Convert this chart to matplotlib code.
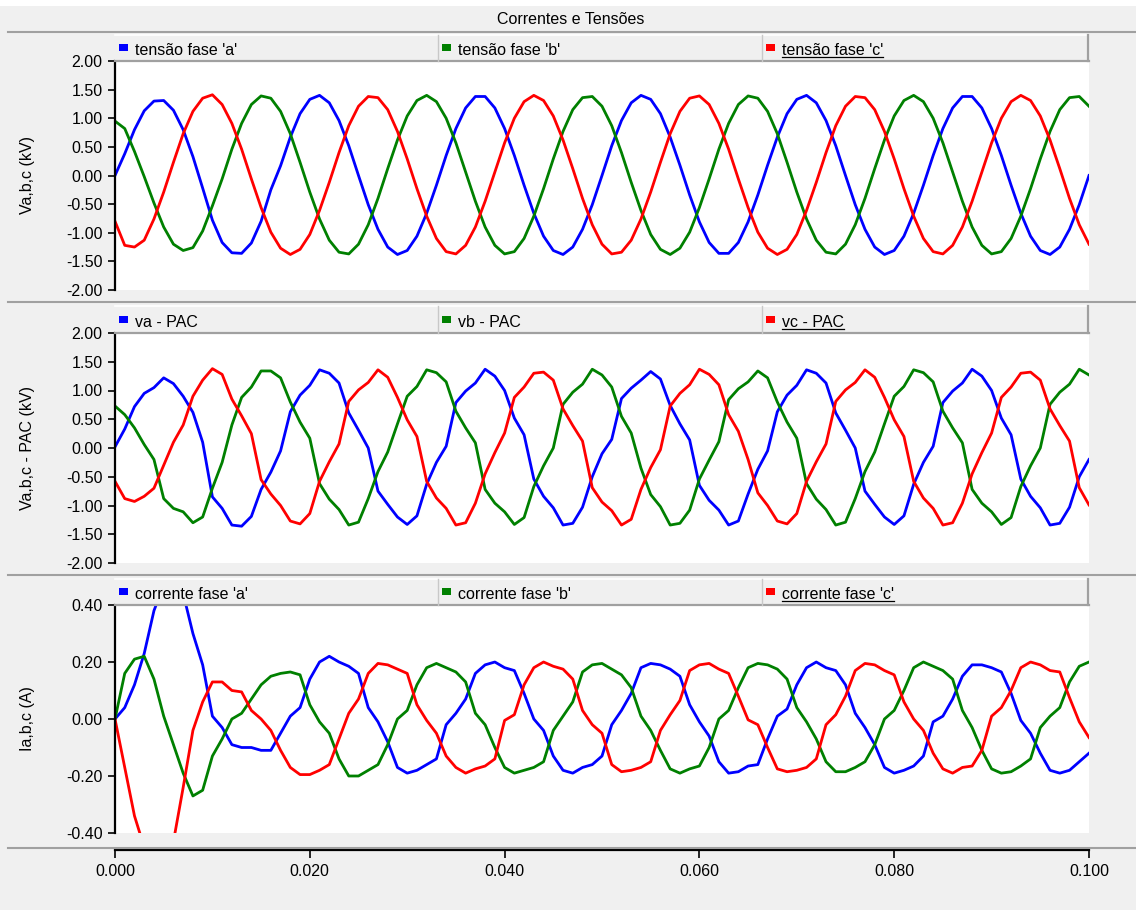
import numpy as np
import matplotlib
matplotlib.use("Agg")
import matplotlib.pyplot as plt
from matplotlib.patches import Rectangle
from matplotlib.lines import Line2D

plt.rcParams['font.family'] = ['Liberation Sans', 'DejaVu Sans']

W, H = 1136, 910
BG = '#f0f0f0'
FS = 11.5

# tempo: uma amostra por ms, 0 .. 0.1 s
t = np.arange(101) / 1000.0

# tensões de fase (kV)
va = [0.00, 0.38, 0.80, 1.13, 1.30, 1.31, 1.14, 0.80, 0.33, -0.22,
      -0.78, -1.17, -1.35, -1.36, -1.18, -0.80, -0.25, 0.17, 0.67, 1.08,
      1.33, 1.40, 1.27, 0.96, 0.52, 0.00, -0.51, -0.94, -1.25, -1.38,
      -1.31, -1.06, -0.66, -0.17, 0.35, 0.82, 1.18, 1.38, 1.38, 1.18,
      0.82, 0.35, -0.17, -0.66, -1.06, -1.31, -1.38, -1.25, -0.94, -0.51,
      0.00, 0.52, 0.96, 1.27, 1.40, 1.33, 1.08, 0.67, 0.18, -0.34,
      -0.81, -1.17, -1.36, -1.36, -1.17, -0.81, -0.34, 0.18, 0.67, 1.08,
      1.33, 1.40, 1.27, 0.96, 0.52, 0.00, -0.51, -0.94, -1.25, -1.38,
      -1.31, -1.06, -0.66, -0.17, 0.35, 0.82, 1.18, 1.38, 1.38, 1.18,
      0.82, 0.35, -0.17, -0.66, -1.06, -1.31, -1.38, -1.25, -0.94, -0.51,
      0.00]
vb = [0.95, 0.82, 0.42, -0.02, -0.48, -0.90, -1.20, -1.31, -1.26, -0.97,
      -0.53, -0.06, 0.46, 0.91, 1.24, 1.39, 1.35, 1.12, 0.73, 0.23,
      -0.29, -0.76, -1.13, -1.34, -1.37, -1.20, -0.86, -0.40, 0.12, 0.62,
      1.04, 1.31, 1.40, 1.29, 1.00, 0.57, 0.06, -0.45, -0.90, -1.22,
      -1.37, -1.33, -1.10, -0.71, -0.23, 0.29, 0.77, 1.15, 1.36, 1.38,
      1.21, 0.87, 0.40, -0.12, -0.61, -1.03, -1.29, -1.38, -1.27, -0.99,
      -0.56, -0.06, 0.46, 0.91, 1.24, 1.39, 1.35, 1.12, 0.73, 0.23,
      -0.29, -0.76, -1.13, -1.34, -1.37, -1.20, -0.86, -0.40, 0.12, 0.62,
      1.04, 1.31, 1.40, 1.29, 1.00, 0.57, 0.06, -0.45, -0.90, -1.22,
      -1.37, -1.33, -1.10, -0.71, -0.23, 0.29, 0.77, 1.15, 1.36, 1.38,
      1.21]
vc = [-0.80, -1.22, -1.25, -1.13, -0.76, -0.29, 0.23, 0.73, 1.12, 1.35,
      1.41, 1.24, 0.91, 0.46, -0.06, -0.56, -0.99, -1.27, -1.38, -1.29,
      -1.03, -0.61, -0.12, 0.40, 0.87, 1.21, 1.38, 1.36, 1.15, 0.77,
      0.29, -0.23, -0.71, -1.10, -1.33, -1.37, -1.22, -0.90, -0.45, 0.06,
      0.57, 1.00, 1.29, 1.40, 1.31, 1.04, 0.62, 0.12, -0.40, -0.86,
      -1.20, -1.37, -1.34, -1.13, -0.76, -0.29, 0.23, 0.73, 1.12, 1.35,
      1.39, 1.24, 0.91, 0.46, -0.06, -0.56, -0.99, -1.27, -1.38, -1.29,
      -1.03, -0.61, -0.12, 0.40, 0.87, 1.21, 1.38, 1.36, 1.15, 0.77,
      0.29, -0.23, -0.71, -1.10, -1.33, -1.37, -1.22, -0.90, -0.45, 0.06,
      0.57, 1.00, 1.29, 1.40, 1.31, 1.04, 0.62, 0.12, -0.40, -0.86,
      -1.20]

# tensões no PAC (kV)
va_pac = [0.02, 0.33, 0.72, 0.95, 1.05, 1.22, 1.12, 0.90, 0.62, 0.10,
          -0.85, -1.05, -1.34, -1.36, -1.19, -0.72, -0.42, -0.05, 0.63, 0.92,
          1.09, 1.36, 1.30, 1.13, 0.61, 0.31, 0.00, -0.75, -0.98, -1.20,
          -1.33, -1.18, -0.63, -0.25, 0.03, 0.79, 0.99, 1.13, 1.37, 1.25,
          1.00, 0.52, 0.23, -0.54, -0.84, -1.04, -1.34, -1.31, -1.03, -0.50,
          -0.10, 0.15, 0.86, 1.04, 1.18, 1.33, 1.20, 0.74, 0.42, 0.14,
          -0.65, -0.91, -1.08, -1.34, -1.27, -0.80, -0.37, -0.05, 0.63, 0.92,
          1.09, 1.36, 1.30, 1.13, 0.61, 0.31, 0.00, -0.75, -0.98, -1.20,
          -1.33, -1.18, -0.63, -0.25, 0.03, 0.79, 0.99, 1.13, 1.37, 1.25,
          1.00, 0.52, 0.23, -0.54, -0.84, -1.04, -1.34, -1.31, -1.03, -0.50,
          -0.20]
vb_pac = [0.73, 0.58, 0.35, 0.06, -0.20, -0.88, -1.05, -1.11, -1.30, -1.20,
          -0.70, -0.25, 0.40, 0.88, 1.06, 1.34, 1.34, 1.22, 0.80, 0.45,
          0.17, -0.62, -0.89, -1.07, -1.34, -1.29, -0.88, -0.41, -0.07, 0.42,
          0.90, 1.07, 1.36, 1.31, 1.15, 0.64, 0.35, 0.09, -0.72, -0.96,
          -1.11, -1.33, -1.21, -0.67, -0.31, 0.00, 0.76, 0.97, 1.11, 1.37,
          1.27, 1.06, 0.55, 0.26, -0.35, -0.81, -1.02, -1.34, -1.31, -1.08,
          -0.54, -0.21, 0.11, 0.84, 1.03, 1.15, 1.34, 1.22, 0.80, 0.45,
          0.17, -0.62, -0.89, -1.07, -1.34, -1.29, -0.88, -0.41, -0.07, 0.42,
          0.90, 1.07, 1.36, 1.31, 1.15, 0.64, 0.35, 0.09, -0.72, -0.96,
          -1.11, -1.33, -1.21, -0.67, -0.31, 0.00, 0.76, 0.97, 1.11, 1.37,
          1.27]
vc_pac = [-0.58, -0.88, -0.93, -0.84, -0.70, -0.30, 0.10, 0.40, 0.90, 1.18,
          1.38, 1.28, 0.85, 0.56, 0.25, -0.55, -0.80, -1.00, -1.27, -1.32,
          -1.14, -0.58, -0.24, 0.07, 0.81, 1.01, 1.14, 1.36, 1.23, 0.88,
          0.49, 0.20, -0.58, -0.87, -1.05, -1.34, -1.30, -0.96, -0.45, -0.08,
          0.26, 0.88, 1.06, 1.30, 1.32, 1.18, 0.68, 0.39, 0.12, -0.69,
          -0.94, -1.09, -1.34, -1.24, -0.72, -0.34, -0.03, 0.73, 0.95, 1.10,
          1.37, 1.28, 1.10, 0.58, 0.29, -0.20, -0.78, -1.00, -1.27, -1.32,
          -1.14, -0.58, -0.24, 0.07, 0.81, 1.01, 1.14, 1.36, 1.23, 0.88,
          0.49, 0.20, -0.58, -0.87, -1.05, -1.34, -1.30, -0.96, -0.45, -0.08,
          0.26, 0.88, 1.06, 1.30, 1.32, 1.18, 0.68, 0.39, 0.12, -0.69,
          -0.99]

# correntes de fase (A)
ia = [0.00, 0.04, 0.12, 0.23, 0.38, 0.47, 0.49, 0.44, 0.30, 0.19,
      0.01, -0.03, -0.09, -0.10, -0.10, -0.11, -0.11, -0.05, 0.01, 0.04,
      0.14, 0.20, 0.22, 0.20, 0.185, 0.16, 0.04, -0.01, -0.08, -0.17,
      -0.19, -0.18, -0.16, -0.14, -0.02, 0.02, 0.07, 0.16, 0.19, 0.20,
      0.18, 0.17, 0.09, 0.00, -0.04, -0.13, -0.18, -0.19, -0.17, -0.16,
      -0.13, -0.02, 0.03, 0.09, 0.18, 0.195, 0.19, 0.175, 0.15, 0.05,
      -0.01, -0.06, -0.15, -0.19, -0.185, -0.165, -0.16, -0.07, 0.01, 0.035,
      0.12, 0.18, 0.20, 0.18, 0.17, 0.12, 0.02, -0.03, -0.09, -0.17,
      -0.19, -0.18, -0.165, -0.13, -0.01, 0.01, 0.07, 0.15, 0.19, 0.19,
      0.18, 0.165, 0.09, -0.005, -0.05, -0.12, -0.18, -0.19, -0.18, -0.15,
      -0.12]
ib = [0.00, 0.16, 0.21, 0.22, 0.14, 0.01, -0.09, -0.19, -0.27, -0.25,
      -0.13, -0.07, 0.00, 0.02, 0.07, 0.12, 0.15, 0.16, 0.165, 0.155,
      0.05, -0.01, -0.05, -0.14, -0.20, -0.20, -0.18, -0.16, -0.09, 0.00,
      0.03, 0.12, 0.18, 0.195, 0.18, 0.165, 0.13, 0.02, -0.02, -0.10,
      -0.17, -0.19, -0.18, -0.17, -0.15, -0.04, 0.01, 0.06, 0.165, 0.19,
      0.195, 0.175, 0.155, 0.11, 0.01, -0.04, -0.11, -0.175, -0.19, -0.175,
      -0.165, -0.10, 0.00, 0.03, 0.11, 0.18, 0.195, 0.19, 0.175, 0.14,
      0.04, -0.01, -0.07, -0.15, -0.185, -0.185, -0.17, -0.15, -0.09, 0.00,
      0.03, 0.10, 0.18, 0.20, 0.185, 0.17, 0.14, 0.03, -0.03, -0.11,
      -0.175, -0.19, -0.185, -0.165, -0.14, -0.03, 0.01, 0.04, 0.13, 0.185,
      0.20]
ic = [0.00, -0.17, -0.34, -0.45, -0.50, -0.49, -0.43, -0.24, -0.04, 0.06,
      0.13, 0.13, 0.10, 0.095, 0.03, 0.00, -0.04, -0.11, -0.17, -0.195,
      -0.195, -0.18, -0.16, -0.07, 0.02, 0.07, 0.16, 0.195, 0.19, 0.175,
      0.16, 0.05, -0.005, -0.05, -0.13, -0.17, -0.19, -0.175, -0.165, -0.14,
      -0.005, 0.015, 0.12, 0.18, 0.20, 0.185, 0.175, 0.14, 0.03, -0.02,
      -0.05, -0.16, -0.185, -0.18, -0.17, -0.15, -0.04, 0.015, 0.065, 0.17,
      0.19, 0.195, 0.175, 0.16, 0.08, -0.003, -0.02, -0.10, -0.175, -0.185,
      -0.18, -0.17, -0.14, -0.02, 0.015, 0.08, 0.17, 0.195, 0.19, 0.17,
      0.155, 0.06, 0.00, -0.04, -0.12, -0.175, -0.19, -0.17, -0.165, -0.11,
      0.01, 0.04, 0.10, 0.18, 0.20, 0.19, 0.17, 0.165, 0.075, -0.01,
      -0.065]

title = 'Correntes e Tensões'
leg_v = ["tensão fase 'a'", "tensão fase 'b'", "tensão fase 'c'"]
leg_pac = ['va - PAC', 'vb - PAC', 'vc - PAC']
leg_i = ["corrente fase 'a'", "corrente fase 'b'", "corrente fase 'c'"]
ylab = ['Va,b,c (kV)', 'Va,b,c - PAC (kV)', 'Ia,b,c (A)']
yticks_v = [-2.0, -1.5, -1.0, -0.5, 0.0, 0.5, 1.0, 1.5, 2.0]
yticks_i = [-0.4, -0.2, 0.0, 0.2, 0.4]
xticks = [0.0, 0.02, 0.04, 0.06, 0.08, 0.1]
colors = ['#0000ff', '#008000', '#ff0000']


def fx(px):
    return px / W


def fy(py):
    return 1 - py / H


fig = plt.figure(figsize=(W / 100, H / 100), dpi=100, facecolor=BG)

# faixa branca no topo e separadores horizontais
fig.add_artist(Rectangle((0, fy(6)), 1, 6 / H, transform=fig.transFigure,
                         facecolor='white', edgecolor='none'))
for ys in [32, 302, 575, 848]:
    fig.add_artist(Line2D([fx(8), 1], [fy(ys), fy(ys)], transform=fig.transFigure,
                          color='#a0a0a0', lw=1.5))

fig.text(0.502, fy(19), title, ha='center', va='center', fontsize=FS)

L, R = 115, 1089
panels = [
    (35, 61, 290, [va, vb, vc], leg_v, ylab[0], yticks_v, (-2.0, 2.0)),
    (306, 333, 563, [va_pac, vb_pac, vc_pac], leg_pac, ylab[1], yticks_v, (-2.0, 2.0)),
    (579, 605, 833, [ia, ib, ic], leg_i, ylab[2], yticks_i, (-0.4, 0.4)),
]
slots = [115, 438, 762]
last_texts = []

for bar_top, top, bot, series, names, lab, yt, ylim in panels:
    ax = fig.add_axes([fx(L), fy(bot), (R - L) / W, (bot - top) / H])
    ax.set_facecolor('white')
    for s, c in zip(series, colors):
        ax.plot(t, s, color=c, lw=2.0)
    ax.set_xlim(0, 0.1)
    ax.set_ylim(*ylim)
    ax.set_xticks([])
    ax.set_yticks(yt)
    ax.set_yticklabels(['%.2f' % v for v in yt])
    ax.tick_params(axis='y', direction='out', length=5, width=1.2,
                   labelsize=FS, pad=4, colors='black')
    for side in ['top', 'right', 'bottom']:
        ax.spines[side].set_visible(False)
    ax.spines['left'].set_linewidth(1.6)
    ax.spines['left'].set_color('black')

    fig.text(fx(28), fy((top + bot) / 2), lab, rotation=90,
             ha='center', va='center', fontsize=FS)

    # barra da legenda
    fig.add_artist(Rectangle((fx(L), fy(top)), (1088 - L) / W, (top - bar_top) / H,
                             transform=fig.transFigure, facecolor=BG, edgecolor='none'))
    fig.add_artist(Line2D([fx(L), fx(1088)], [fy(bar_top), fy(bar_top)],
                          transform=fig.transFigure, color='white', lw=1.2))
    fig.add_artist(Line2D([fx(L), fx(1089)], [fy(top - 0.5), fy(top - 0.5)],
                          transform=fig.transFigure, color='#a0a0a0', lw=1.6))
    fig.add_artist(Line2D([fx(1088), fx(1088)], [fy(bar_top), fy(top)],
                          transform=fig.transFigure, color='#a0a0a0', lw=1.6))
    for xs in slots[1:]:
        fig.add_artist(Line2D([fx(xs), fx(xs)], [fy(bar_top), fy(top)],
                              transform=fig.transFigure, color='#c8c8c8', lw=1.0))
    base = top - 6
    for xs, nm, c in zip(slots, names, colors):
        fig.add_artist(Rectangle((fx(xs + 4), fy(base - 4)), 9 / W, 7 / H,
                                 transform=fig.transFigure, facecolor=c, edgecolor='none'))
        txt = fig.text(fx(xs + 20), fy(base), nm, ha='left', va='baseline', fontsize=FS)
    last_texts.append((txt, base))

# eixo x comum
axx = fig.add_axes([fx(L), fy(850), (R - L) / W, 0.0001])
axx.patch.set_visible(False)
for side in ['top', 'right', 'left']:
    axx.spines[side].set_visible(False)
axx.spines['bottom'].set_linewidth(1.6)
axx.set_xlim(0, 0.1)
axx.set_yticks([])
axx.set_xticks(xticks)
axx.set_xticklabels(['%.3f' % v for v in xticks])
axx.tick_params(axis='x', direction='out', length=6, width=1.2, labelsize=FS, pad=4)

# sublinhado da última entrada de cada legenda
fig.canvas.draw()
r = fig.canvas.get_renderer()
for txt, base in last_texts:
    bb = txt.get_window_extent(r)
    fig.add_artist(Line2D([bb.x0 / W, bb.x1 / W], [fy(base + 2), fy(base + 2)],
                          transform=fig.transFigure, color='black', lw=0.9))

fig.savefig('out.png', dpi=100, facecolor=BG)
